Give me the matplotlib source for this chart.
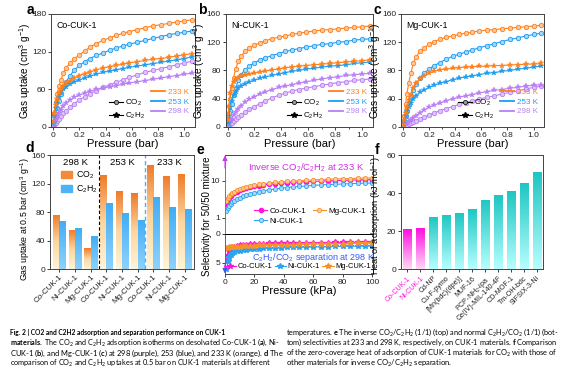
import numpy as np
import matplotlib.pyplot as plt
from matplotlib.colors import LinearSegmentedColormap
from matplotlib.lines import Line2D
from matplotlib.patches import Patch

plt.rcParams['font.family'] = ['Liberation Sans', 'DejaVu Sans']
plt.rcParams['mathtext.fontset'] = 'custom'
plt.rcParams['mathtext.rm'] = 'Liberation Sans'
plt.rcParams['mathtext.it'] = 'Liberation Sans:italic'
plt.rcParams['mathtext.bf'] = 'Lato:bold'
plt.rcParams['mathtext.sf'] = 'Lato'

# ---------------- isotherm data (a-c) ----------------
P_BAR = [0.003, 0.01, 0.02, 0.03, 0.045, 0.06, 0.08, 0.10, 0.13, 0.16, 0.20, 0.24, 0.28, 0.33,
         0.38, 0.43, 0.48, 0.53, 0.58, 0.64, 0.70, 0.76, 0.82, 0.88, 0.94, 1.00, 1.06]

# Co-CUK-1
co_co2_233 = [5, 20, 40, 52, 65, 75, 86, 94, 102, 108, 115, 121, 127, 133, 138, 142, 146, 149, 152, 155, 158, 161, 163, 165, 167, 169, 171]
co_co2_253 = [3, 10, 20, 30, 42, 52, 63, 72, 82, 90, 98, 104, 109, 114, 118, 122, 126, 129, 132, 135, 138, 141, 144, 147, 149, 151, 153]
co_c2h2_233 = [8, 22, 35, 45, 54, 60, 66, 70, 74, 78, 82, 85, 88, 91, 94, 96, 98, 100, 102, 104, 106, 108, 109, 111, 113, 115, 117]
co_c2h2_253 = [6, 18, 30, 39, 48, 54, 60, 64, 68, 72, 75, 78, 81, 84, 87, 89, 91, 93, 95, 97, 99, 101, 103, 105, 107, 109, 112]
co_co2_298 = [1, 3, 6, 9, 13, 17, 22, 26, 32, 37, 43, 48, 53, 58, 63, 67, 71, 75, 79, 83, 87, 90, 93, 96, 99, 102, 105]
co_c2h2_298 = [2, 6, 11, 16, 22, 27, 33, 38, 43, 47, 51, 54, 57, 60, 62, 64, 66, 68, 70, 72, 74, 76, 78, 80, 82, 84, 86]

# Ni-CUK-1
ni_co2_233 = [5, 20, 40, 55, 70, 82, 93, 100, 107, 112, 116, 119, 122, 125, 127, 129, 131, 133, 134, 136, 137, 138, 139, 140, 141, 142, 143]
ni_co2_253 = [3, 10, 22, 33, 45, 55, 66, 74, 81, 86, 91, 95, 98, 101, 104, 107, 109, 111, 113, 115, 117, 118, 120, 121, 123, 124, 125]
ni_c2h2_233 = [10, 30, 48, 58, 64, 68, 70, 72, 73, 75, 76, 78, 79, 81, 82, 84, 85, 86, 87, 88, 89, 90, 91, 92, 93, 94, 95]
ni_c2h2_253 = [5, 15, 28, 37, 45, 50, 55, 58, 61, 64, 66, 69, 71, 73, 75, 77, 79, 80, 82, 83, 85, 86, 87, 88, 90, 91, 92]
ni_co2_298 = [0.5, 2, 4, 6, 9, 11, 14, 17, 21, 25, 29, 33, 37, 41, 45, 48, 51, 53, 55, 57, 59, 61, 63, 64, 66, 67, 68]
ni_c2h2_298 = [1, 4, 8, 12, 17, 21, 26, 30, 35, 39, 43, 47, 50, 53, 56, 58, 60, 62, 64, 66, 68, 70, 71, 73, 74, 75, 76]

# Mg-CUK-1
mg_co2_233 = [4, 15, 32, 47, 63, 76, 90, 99, 107, 112, 117, 121, 124, 127, 129, 131, 133, 134, 136, 137, 138, 139, 140, 141, 142, 143, 144]
mg_co2_253 = [2, 7, 15, 23, 33, 42, 52, 61, 69, 76, 82, 87, 91, 96, 100, 103, 106, 109, 112, 115, 118, 121, 124, 126, 129, 131, 133]
mg_c2h2_233 = [3, 10, 20, 28, 38, 46, 55, 62, 68, 72, 76, 79, 81, 82, 83, 84, 85, 85, 86, 86, 87, 87, 88, 88, 89, 89, 90]
mg_c2h2_253 = [2, 8, 16, 22, 29, 34, 40, 44, 49, 52, 56, 59, 62, 64, 67, 69, 71, 72, 74, 76, 77, 79, 80, 82, 83, 85, 86]
mg_co2_298 = [0.3, 1, 2, 3, 4, 5, 7, 9, 11, 14, 17, 20, 23, 26, 29, 32, 34, 37, 39, 42, 44, 47, 49, 51, 54, 56, 58]
mg_c2h2_298 = [0.5, 2, 4, 6, 8, 10, 13, 16, 20, 24, 28, 31, 34, 37, 40, 42, 44, 46, 48, 50, 52, 53, 55, 56, 58, 59, 60]

# ---------------- uptake at 0.5 bar (d) ----------------
d_labels = ['Co-CUK-1', 'Ni-CUK-1', 'Mg-CUK-1'] * 3
d_temps = ['298 K', '253 K', '233 K']
co2_05bar = [76, 55, 29, 132, 110, 106, 146, 131, 134]
c2h2_05bar = [68, 58, 47, 92, 79, 69, 101, 87, 84]

# ---------------- selectivity (e) ----------------
P_KPA = [1, 2, 3, 4, 5, 6, 8, 10, 12, 14, 17, 20, 23, 26, 30, 34, 38, 42, 46, 50,
         55, 60, 65, 70, 75, 80, 85, 90, 95, 100]
inv_co = [2.3, 3.0, 3.5, 3.9, 4.3, 4.6, 5.1, 5.6, 6.0, 6.3, 6.7, 7.1, 7.4, 7.7, 8.0, 8.3, 8.6, 8.8, 9.0, 9.2,
          9.4, 9.6, 9.8, 10.0, 10.1, 10.3, 10.4, 10.5, 10.6, 10.8]
inv_mg = [2.8, 3.4, 3.9, 4.3, 4.7, 5.0, 5.6, 6.1, 6.5, 6.8, 7.3, 7.7, 8.0, 8.3, 8.7, 9.0, 9.3, 9.6, 9.8, 10.1,
          10.3, 10.6, 10.8, 11.0, 11.2, 11.4, 11.5, 11.7, 11.8, 12.0]
inv_ni = [1.5, 1.8, 2.1, 2.3, 2.6, 2.8, 3.2, 3.5, 3.8, 4.0, 4.4, 4.8, 5.0, 5.3, 5.7, 6.0, 6.3, 6.5, 6.8, 7.0,
          7.2, 7.5, 7.7, 7.9, 8.0, 8.2, 8.3, 8.5, 8.6, 8.7]
sep_co = [4.7, 3.6, 3.0, 2.7, 2.5, 2.3, 2.1, 2.0, 1.9, 1.85, 1.8, 1.75, 1.7, 1.68, 1.65, 1.62, 1.6, 1.58, 1.56, 1.55,
          1.53, 1.52, 1.5, 1.49, 1.48, 1.47, 1.46, 1.45, 1.44, 1.43]
sep_ni = [6.2, 4.8, 4.1, 3.7, 3.4, 3.2, 3.0, 2.9, 2.8, 2.75, 2.7, 2.6, 2.55, 2.5, 2.45, 2.4, 2.38, 2.35, 2.32, 2.3,
          2.28, 2.25, 2.23, 2.2, 2.18, 2.16, 2.14, 2.12, 2.1, 2.08]
sep_mg = [2.5, 2.4, 2.35, 2.3, 2.3, 2.25, 2.2, 2.2, 2.15, 2.1, 2.1, 2.05, 2.0, 2.0, 1.95, 1.9, 1.9, 1.85, 1.85, 1.8,
          1.8, 1.75, 1.75, 1.7, 1.7, 1.68, 1.66, 1.65, 1.63, 1.62]

# ---------------- heat of adsorption (f) ----------------
f_names = ['Co-CUK-1', 'Ni-CUK-1', 'Cd-NP', 'Cu-F-pymo', '[Mn(bdc)(dpe)]', 'MUF-16', 'PCP-NH$_2$-ipa',
           'Ce(IV)-MIL-140-4F', 'CD-MOF-1', 'Tm-OH-bdc', 'SIFSIX-3-Ni']
f_heat = [21.0, 21.5, 27.4, 28.6, 29.3, 31.8, 36.4, 38.9, 40.9, 45.2, 51.0]

C233, C253, C298 = '#ff7f1a', '#1d9df2', '#b97ff5'
L233, L253, L298 = '#ffc597', '#a5d7fb', '#ddc3fb'
MAG, NIB, MGO = '#ff14d8', '#2aa3f0', '#f7922a'

W, H = 564, 372
fig = plt.figure(figsize=(W / 100, H / 100), dpi=100)


def px_axes(l, t, r, b):
    return fig.add_axes([l / W, 1 - b / H, (r - l) / W, (b - t) / H])


def style(ax):
    for s in ax.spines.values():
        s.set_color('#444444')
        s.set_linewidth(0.7)
    ax.tick_params(direction='out', length=2.2, width=0.6, labelsize=6, pad=1.2, colors='#222222')


def letter(x, y, s):
    fig.text(x / W, 1 - y / H, s, fontsize=10, fontweight='bold', ha='center', va='center')


def iso_panel(ax, name, data, ymax, yticks, label_x):
    (co2_233, co2_253, co2_298, c2h2_233, c2h2_253, c2h2_298) = data
    for y, c, lc in [(co2_298, C298, L298), (co2_253, C253, L253), (co2_233, C233, L233)]:
        ax.plot(P_BAR, y, '-', color=c, lw=0.8, marker='o', ms=3.2, mfc=lc, mec=c, mew=0.6)
    for y, c in [(c2h2_298, C298), (c2h2_253, C253), (c2h2_233, C233)]:
        ax.plot(P_BAR, y, '-', color=c, lw=0.8, marker='*', ms=4.2, mfc=c, mec=c, mew=0.3)
    ax.set_xlim(-0.015, 1.08)
    ax.set_ylim(0, ymax)
    ax.set_yticks(yticks)
    ax.set_xticks([0, 0.2, 0.4, 0.6, 0.8, 1.0])
    ax.set_xticklabels(['0', '0.2', '0.4', '0.6', '0.8', '1.0'])
    ax.set_xticks([0.1, 0.3, 0.5, 0.7, 0.9], minor=True)
    style(ax)
    ax.tick_params(which='minor', length=1.4, width=0.5)
    ax.set_xlabel('Pressure (bar)', fontsize=8, labelpad=0.3)
    ax.set_ylabel('Gas uptake (cm$^3$ g$^{-1}$)', fontsize=7.2)
    ax.yaxis.set_label_coords(label_x, 0.5)
    ax.text(0.04, 0.94, name, transform=ax.transAxes, fontsize=6.3, va='top')
    blank = Line2D([], [], color='none')
    h_co2 = Line2D([], [], color='k', lw=0.8, marker='o', ms=3, mfc='#999999', mec='k', mew=0.5)
    h_c2h2 = Line2D([], [], color='k', lw=0.8, marker='*', ms=4)
    hs = [Line2D([], [], color=c, lw=1.3) for c in (C233, C253, C298)]
    leg = ax.legend([blank, h_co2, h_c2h2] + hs, ['', 'CO$_2$', 'C$_2$H$_2$', '233 K', '253 K', '298 K'],
                    ncol=2, loc='lower right', fontsize=5.8, frameon=False, handlelength=1.7,
                    handletextpad=0.3, columnspacing=0.8, labelspacing=0.25, borderaxespad=0.4)
    for t, c in zip(leg.get_texts()[3:], (C233, C253, C298)):
        t.set_color(c)


# ---------------- a, b, c ----------------
ax_a = px_axes(51, 14, 195, 127)
iso_panel(ax_a, 'Co-CUK-1', (co_co2_233, co_co2_253, co_co2_298, co_c2h2_233, co_c2h2_253, co_c2h2_298),
          180, [0, 60, 120, 180], -0.128)
ax_b = px_axes(225.5, 14, 373, 127)
iso_panel(ax_b, 'Ni-CUK-1', (ni_co2_233, ni_co2_253, ni_co2_298, ni_c2h2_233, ni_c2h2_253, ni_c2h2_298),
          160, [0, 40, 80, 120, 160], -0.128)
ax_c = px_axes(401, 14, 544, 127)
iso_panel(ax_c, 'Mg-CUK-1', (mg_co2_233, mg_co2_253, mg_co2_298, mg_c2h2_233, mg_c2h2_253, mg_c2h2_298),
          160, [0, 40, 80, 120, 160], -0.124)
letter(30, 10, 'a')
letter(202, 10, 'b')
letter(377, 10, 'c')

GRAD = np.linspace(0, 1, 128).reshape(-1, 1)


def fill_gradient(ax, bars, cmap):
    for b in bars:
        x0, w, h = b.get_x(), b.get_width(), b.get_height()
        im = ax.imshow(GRAD, cmap=cmap, aspect='auto', origin='lower', interpolation='bilinear',
                       extent=[x0, x0 + w, 0, h], zorder=2)
        im.set_clip_path(b)


# ---------------- d ----------------
ax_d = px_axes(50, 155, 194, 269)
xd = np.arange(len(d_labels))
b1 = ax_d.bar(xd - 0.2, co2_05bar, 0.4, color='none', edgecolor='none')
b2 = ax_d.bar(xd + 0.2, c2h2_05bar, 0.4, color='none', edgecolor='none')
cm_co2 = LinearSegmentedColormap.from_list('co2', ['#fff4d6', '#fbd6a0', '#ef7a28'])
cm_c2h2 = LinearSegmentedColormap.from_list('c2h2', ['#8ed2fb', '#40adf5'])
fill_gradient(ax_d, b1, cm_co2)
fill_gradient(ax_d, b2, cm_c2h2)
ax_d.axvline(2.5, color='k', ls=(0, (3, 2)), lw=0.8)
ax_d.axvline(5.5, color='#5aa9f5', ls=(0, (3, 2)), lw=1.0)
for i, t in enumerate(d_temps):
    ax_d.text(1 + 3 * i, 150, t, ha='center', va='center', fontsize=6.8)
ax_d.set_xlim(-0.6, 8.6)
ax_d.set_ylim(0, 160)
ax_d.set_yticks([0, 40, 80, 120, 160])
ax_d.set_xticks(xd)
ax_d.set_xticklabels(d_labels, rotation=45, ha='right', rotation_mode='anchor')
style(ax_d)
ax_d.tick_params(axis='x', labelsize=5.8)
ax_d.set_ylabel('Gas uptake at 0.5 bar (cm$^3$ g$^{-1}$)', fontsize=6.3)
ax_d.yaxis.set_label_coords(-0.125, 0.44)
ax_d.legend([Patch(color='#f28a3c'), Patch(color='#4cb3f6')], ['CO$_2$', 'C$_2$H$_2$'],
            loc='upper left', bbox_to_anchor=(0.02, 0.94), fontsize=6.3, frameon=False,
            handlelength=1.3, handleheight=0.9, handletextpad=0.4, labelspacing=0.3)
letter(30, 148, 'd')

# ---------------- e ----------------
ax_e1 = px_axes(225, 155, 373, 234)
ax_e2 = px_axes(225, 234, 373, 274)
ax_e1.plot(P_KPA, inv_co, '-', color=MAG, lw=0.8, marker='o', ms=3, mfc=MAG, mec=MAG, label='Co-CUK-1')
ax_e1.plot(P_KPA, inv_ni, '-', color=NIB, lw=0.8, marker='o', ms=3, mfc='#a8d8fb', mec=NIB, mew=0.6, label='Ni-CUK-1')
ax_e1.plot(P_KPA, inv_mg, '-', color=MGO, lw=0.8, marker='o', ms=3, mfc='#ffc894', mec=MGO, mew=0.6, label='Mg-CUK-1')
ax_e2.plot(P_KPA, sep_co, '-', color=MAG, lw=0.8, marker='*', ms=4, mfc=MAG, mec=MAG, label='Co-CUK-1')
ax_e2.plot(P_KPA, sep_ni, '-', color=NIB, lw=0.8, marker='*', ms=4, mfc=NIB, mec=NIB, label='Ni-CUK-1')
ax_e2.plot(P_KPA, sep_mg, '-', color=MGO, lw=0.8, marker='*', ms=4, mfc=MGO, mec=MGO, label='Mg-CUK-1')
ax_e1.set_yscale('log')
ax_e1.set_ylim(0.36, 50)
ax_e1.set_yticks([1, 10])
ax_e1.set_yticklabels(['1', '10'])
ax_e1.minorticks_off()
ax_e2.set_ylim(7, 0)
ax_e2.set_yticks([0, 5])
for ax in (ax_e1, ax_e2):
    ax.set_xlim(0, 100.5)
    ax.set_xticks([0, 20, 40, 60, 80, 100])
    style(ax)
ax_e1.tick_params(axis='x', bottom=False, labelbottom=False)
ax_e1.spines['bottom'].set_color('k')
ax_e2.spines['top'].set_color('k')
ax_e1.spines['left'].set_color('#c43bf0')
ax_e2.spines['left'].set_color('#3a5cf0')
ax_e1.annotate('', xy=(0, 1.03), xytext=(0, 0.80), xycoords='axes fraction',
               arrowprops=dict(arrowstyle='-|>', color='#c43bf0', lw=0.8, mutation_scale=7))
ax_e2.annotate('', xy=(0, -0.06), xytext=(0, 0.3), xycoords='axes fraction',
               arrowprops=dict(arrowstyle='-|>', color='#3a5cf0', lw=0.8, mutation_scale=7))
ax_e2.set_xlabel('Pressure (kPa)', fontsize=8, labelpad=0.3)
fig.text(207 / W, 1 - 216 / H, 'Selectivity for 50/50 mixture', rotation=90, fontsize=7,
         ha='center', va='center')
ax_e1.text(0.55, 0.84, 'Inverse CO$_2$/C$_2$H$_2$ at 233 K', transform=ax_e1.transAxes,
           color='#d22ee8', fontsize=6.8, ha='center', va='center')
ax_e2.text(0.6, 0.4, 'C$_2$H$_2$/CO$_2$ separation at 298 K', transform=ax_e2.transAxes,
           color='#3a5cf0', fontsize=6.5, ha='center', va='center')
ax_e1.legend(ncol=2, loc='lower right', bbox_to_anchor=(1.0, 0.02), fontsize=5.8, frameon=False,
             handlelength=1.6, handletextpad=0.3, columnspacing=0.8, labelspacing=0.3)
ax_e2.legend(ncol=3, loc='lower center', bbox_to_anchor=(0.49, -0.08), fontsize=5.4, frameon=False,
             handlelength=1.5, handletextpad=0.2, columnspacing=0.35)
letter(200, 150, 'e')

# ---------------- f ----------------
ax_f = px_axes(401, 155, 543, 269)
xf = np.arange(len(f_names))
bf1 = ax_f.bar(xf[:2], f_heat[:2], 0.62, color='none', edgecolor='none')
bf2 = ax_f.bar(xf[2:], f_heat[2:], 0.62, color='none', edgecolor='none')
fill_gradient(ax_f, bf1, LinearSegmentedColormap.from_list('mag', ['#ffd8f6', '#ff10e0']))
fill_gradient(ax_f, bf2, LinearSegmentedColormap.from_list('teal', ['#b6ffff', '#1dc6c2']))
ax_f.set_xlim(-0.5, 10.5)
ax_f.set_ylim(0, 60)
ax_f.set_yticks([0, 20, 40, 60])
ax_f.set_xticks(xf)
ax_f.set_xticklabels(f_names, rotation=45, ha='right', rotation_mode='anchor')
style(ax_f)
ax_f.tick_params(axis='x', labelsize=5.1, pad=2)
for t in ax_f.get_xticklabels()[:2]:
    t.set_color(MAG)
ax_f.set_ylabel('Heat of adsorption (kJ mol$^{-1}$)', fontsize=6.6)
ax_f.yaxis.set_label_coords(-0.125, 0.47)
letter(377, 150, 'f')

# ---------------- caption ----------------
cap = dict(fontsize=5.6, family='Lato', va='center', ha='left')
lx, rx = 10, 286
ys = [332, 342.5, 353, 363.5]
# (text, x, y, right edge to fit, bold)
caption_lines = [
    ('Fig. 2 | CO2 and C2H2 adsorption and separation performance on CUK-1', lx, ys[0], 223, True),
    (r'$\mathbf{materials.}$ The CO$_\mathsf{2}$ and C$_\mathsf{2}$H$_\mathsf{2}$ '
     r'adsorption isotherms on desolvated Co-CUK-1 ($\mathbf{a}$), Ni-', lx, ys[1], 281, False),
    (r'CUK-1 ($\mathbf{b}$), and Mg-CUK-1 ($\mathbf{c}$) at 298 (purple), 253 (blue), '
     r'and 233 K (orange). $\mathbf{d}$ The', lx, ys[2], 281, False),
    (r'comparison of CO$_\mathsf{2}$ and C$_\mathsf{2}$H$_\mathsf{2}$ uptakes at 0.5 bar '
     r'on CUK-1 materials at different', lx, ys[3], 270, False),
    (r'temperatures. $\mathbf{e}$ The inverse CO$_\mathsf{2}$/C$_\mathsf{2}$H$_\mathsf{2}$ '
     r'(1/1) (top) and normal C$_\mathsf{2}$H$_\mathsf{2}$/CO$_\mathsf{2}$ (1/1) (bot-', rx, ys[0], 558, False),
    (r'tom) selectivities at 233 and 298 K, respectively, on CUK-1 materials. '
     r'$\mathbf{f}$ Comparison', rx, ys[1], 558, False),
    (r'of the zero-coverage heat of adsorption of CUK-1 materials for CO$_\mathsf{2}$ '
     r'with those of', rx, ys[2], 557, False),
    (r'other materials for inverse CO$_\mathsf{2}$/C$_\mathsf{2}$H$_\mathsf{2}$ separation.',
     rx, ys[3], 453, False),
]
renderer = fig.canvas.get_renderer()
for txt, x, y, right, bold in caption_lines:
    t = fig.text(x / W, 1 - y / H, txt, fontweight='bold' if bold else 'normal', **cap)
    width = t.get_window_extent(renderer).width
    t.set_fontsize(cap['fontsize'] * (right - x) / width)

fig.savefig('out.png', dpi=100)
